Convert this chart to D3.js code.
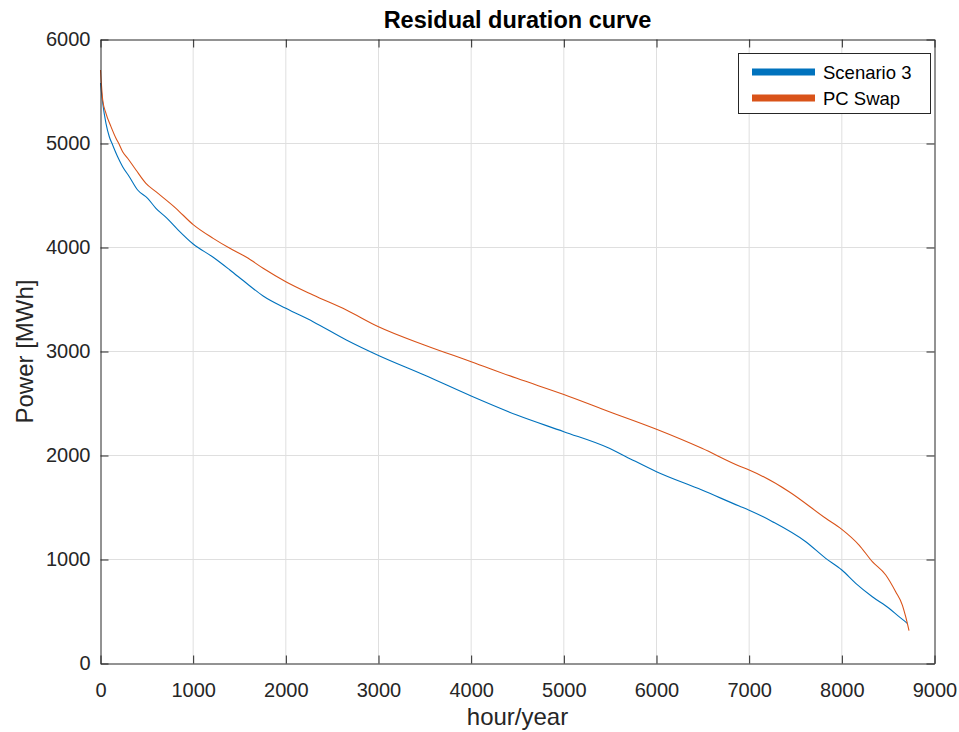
<!DOCTYPE html>
<html>
<head>
<meta charset="utf-8">
<script src="https://cdn.jsdelivr.net/npm/d3@7/dist/d3.min.js"></script>
<style>
  html, body { margin: 0; padding: 0; background: #ffffff; }
  svg { display: block; font-family: "Liberation Sans", Arial, Helvetica, sans-serif; }
</style>
</head>
<body>
<svg id="chart" width="959" height="732"></svg>
<script>
// Residual load duration curves (hours of the year sorted by residual power)
const scenarioHours = [0, 24, 59, 95, 131, 185, 239, 311, 401, 509, 598, 713, 839, 1000, 1216, 1396, 1576, 1755,
  2000, 2294, 2653, 3000, 3494, 4000, 4493, 5000, 5491, 5671, 6000, 6490, 6892, 7000, 7252, 7611, 7826,
  8000, 8150, 8329, 8509, 8617, 8706];
const scenarioPower = [5582, 5387, 5194, 5065, 4986, 4873, 4777, 4681, 4553, 4473, 4377, 4285, 4168, 4034, 3906, 3784, 3656, 3534,
  3415, 3287, 3111, 2962, 2774, 2572, 2389, 2229, 2069, 1989, 1844, 1668, 1514, 1474, 1364, 1171, 1011,
  899, 771, 642, 531, 450, 386];

const swapHours = [0, 24, 59, 113, 167, 196, 239, 293, 383, 490, 598, 814, 1000, 1216, 1396, 1576, 1755,
  2000, 2294, 2653, 3000, 3494, 4000, 4493, 5000, 5491, 6000, 6490, 6892, 7000, 7431, 7826,
  8000, 8186, 8329, 8474, 8581, 8653, 8689, 8725];
const swapPower = [5707, 5418, 5290, 5162, 5050, 5002, 4921, 4858, 4745, 4617, 4537, 4377, 4220, 4088, 3992, 3906, 3800,
  3671, 3543, 3399, 3238, 3063, 2902, 2742, 2587, 2421, 2252, 2069, 1899, 1861, 1652, 1396,
  1290, 1139, 979, 851, 690, 562, 450, 316];

const seriesNames = ["Scenario 3", "PC Swap"];
const seriesColors = ["#0072BD", "#D95319"];
const xTicks = [0, 1000, 2000, 3000, 4000, 5000, 6000, 7000, 8000, 9000];
const yTicks = [0, 1000, 2000, 3000, 4000, 5000, 6000];

const svg = d3.select("#chart");
const plotLeft = 100.5, plotRight = 934.5, plotTop = 39.5, plotBottom = 663.5;
const axisColor = "#262626";

const x = d3.scaleLinear().domain([0, 9000]).range([plotLeft, plotRight]);
const y = d3.scaleLinear().domain([0, 6000]).range([plotBottom, plotTop]);

// grid
const grid = svg.append("g");
grid.selectAll("line.vx").data(xTicks.slice(1, -1)).join("line")
  .attr("x1", d => x(d)).attr("x2", d => x(d)).attr("y1", plotTop).attr("y2", plotBottom)
  .attr("stroke", "#dfdfdf").attr("stroke-width", 1);
grid.selectAll("line.hy").data(yTicks.slice(1, -1)).join("line")
  .attr("x1", plotLeft).attr("x2", plotRight).attr("y1", d => y(d)).attr("y2", d => y(d))
  .attr("stroke", "#dfdfdf").attr("stroke-width", 1);

// curves
const series = [
  { name: seriesNames[0], color: seriesColors[0], hours: scenarioHours, power: scenarioPower },
  { name: seriesNames[1], color: seriesColors[1], hours: swapHours, power: swapPower }
];
const line = d3.line().x(d => x(d[0])).y(d => y(d[1])).curve(d3.curveMonotoneX);
svg.append("g").selectAll("path").data(series).join("path")
  .attr("d", s => line(s.hours.map((h, i) => [h, s.power[i]])))
  .attr("fill", "none").attr("stroke", s => s.color).attr("stroke-width", 1.1);

// axes (box with inward ticks on all sides)
const tickLen = 8;
const fmt = d3.format("d");
const axB = d3.axisBottom(x).tickValues(xTicks).tickSizeInner(-tickLen).tickSizeOuter(0).tickPadding(19).tickFormat(fmt);
const axT = d3.axisTop(x).tickValues(xTicks).tickSizeInner(-tickLen).tickSizeOuter(0).tickFormat("");
const axL = d3.axisLeft(y).tickValues(yTicks).tickSizeInner(-tickLen).tickSizeOuter(0).tickPadding(10).tickFormat(fmt);
const axR = d3.axisRight(y).tickValues(yTicks).tickSizeInner(-tickLen).tickSizeOuter(0).tickFormat("");

function styleAxis(g) {
  g.select(".domain").attr("stroke", axisColor).attr("stroke-width", 1);
  g.selectAll(".tick line").attr("stroke", axisColor).attr("stroke-width", 1);
  g.selectAll(".tick text").attr("fill", axisColor).attr("font-size", 20)
    .attr("font-family", "Liberation Sans, Arial, sans-serif");
}
svg.append("g").attr("transform", `translate(0,${plotBottom})`).call(axB).call(styleAxis);
svg.append("g").attr("transform", `translate(0,${plotTop})`).call(axT).call(styleAxis);
svg.append("g").attr("transform", `translate(${plotLeft},0)`).call(axL).call(styleAxis);
svg.append("g").attr("transform", `translate(${plotRight},0)`).call(axR).call(styleAxis);

// titles
svg.append("text").attr("x", (plotLeft + plotRight) / 2).attr("y", 28)
  .attr("text-anchor", "middle").attr("font-size", 23.5).attr("font-weight", "bold")
  .attr("fill", "#000").text("Residual duration curve");
svg.append("text").attr("x", (plotLeft + plotRight) / 2).attr("y", 725)
  .attr("text-anchor", "middle").attr("font-size", 24).attr("fill", axisColor).text("hour/year");
svg.append("text").attr("transform", `translate(33,${(plotTop + plotBottom) / 2}) rotate(-90)`)
  .attr("text-anchor", "middle").attr("font-size", 24).attr("fill", axisColor).text("Power [MWh]");

// legend
const lg = svg.append("g");
lg.append("rect").attr("x", 738.5).attr("y", 53.5).attr("width", 192).attr("height", 60)
  .attr("fill", "#fff").attr("stroke", axisColor).attr("stroke-width", 1);
series.forEach((s, i) => {
  const cy = 72 + i * 26;
  lg.append("line").attr("x1", 752).attr("x2", 815).attr("y1", cy).attr("y2", cy)
    .attr("stroke", s.color).attr("stroke-width", 7);
  lg.append("text").attr("x", 823).attr("y", cy + 6.5).attr("font-size", 18.5)
    .attr("fill", "#000").text(s.name);
});
</script>
</body>
</html>
